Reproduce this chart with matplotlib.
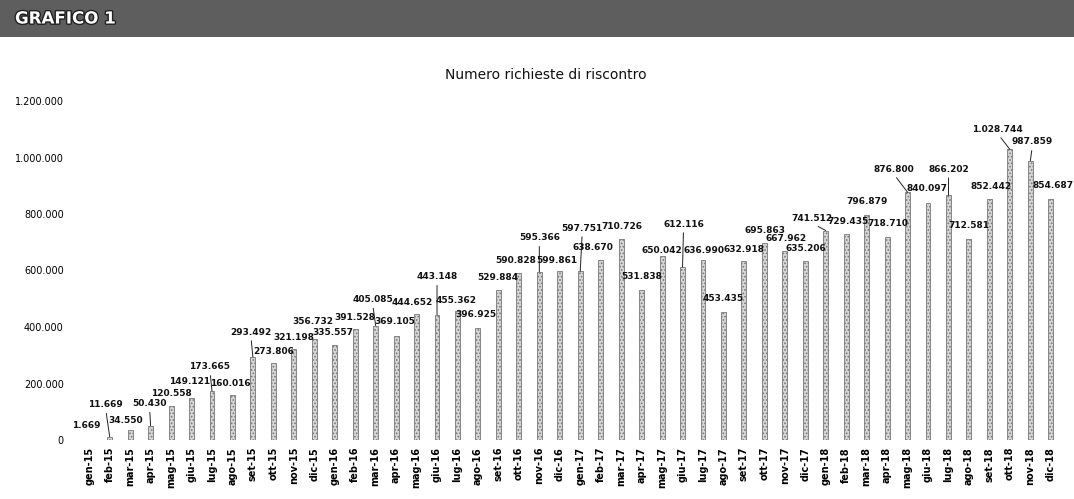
import matplotlib
matplotlib.use("Agg")
import matplotlib.pyplot as plt
import matplotlib.patheffects as pe
from matplotlib.ticker import FuncFormatter

# months gen-15 .. dic-18
mesi = ["gen", "feb", "mar", "apr", "mag", "giu", "lug", "ago", "set", "ott", "nov", "dic"]
anni = ["15", "16", "17", "18"]
categories = [f"{m}-{a}" for a in anni for m in mesi]

richieste = [
    1669, 11669, 34550, 50430, 120558, 149121, 173665, 160016,
    293492, 273806, 321198, 356732, 335557, 391528, 405085, 369105,
    444652, 443148, 455362, 396925, 529884, 590828, 595366, 599861,
    597751, 638670, 710726, 531838, 650042, 612116, 636990, 453435,
    632918, 695863, 667962, 635206, 741512, 729435, 796879, 718710,
    876800, 840097, 866202, 712581, 852442, 1028744, 987859, 854687,
]

# label offsets from the bar top, in pixels (dx, dy up)
label_offsets = [
    (-3, 14), (-4, 32), (-4, 10), (-1, 22), (0, 12), (-2, 16), (-2, 24), (-2, 11),
    (-2, 25), (0, 11), (0, 12), (-1, 18), (-2, 13), (0, 12), (-3, 26), (-1, 14),
    (-4, 12), (0, 38), (-1, 11), (-2, 13), (-1, 13), (-3, 13), (0, 34), (-3, 10),
    (2, 43), (-8, 12), (1, 13), (0, 13), (0, 6), (1, 43), (1, 10), (0, 13),
    (0, 12), (1, 13), (1, 13), (1, 12), (-14, 12), (2, 12), (0, 13), (1, 13),
    (-14, 23), (-1, 14), (0, 26), (0, 13), (2, 13), (-12, 20), (2, 19), (2, 13),
]
# labels pulled away from their bar, drawn with a leader line
leaders = [1, 3, 6, 8, 14, 17, 22, 24, 29, 36, 40, 42, 45, 46]


def it_thousands(v, _pos=None):
    return f"{int(v):,}".replace(",", ".")


plt.rcParams["hatch.color"] = "#808080"
plt.rcParams["hatch.linewidth"] = 0.8

fig = plt.figure(figsize=(10.74, 4.99), dpi=100)
fig.patch.set_facecolor("white")

# header banner
banner = fig.add_axes([0, 1 - 37 / 499, 1, 37 / 499])
banner.set_facecolor("#5e5e5e")
banner.set_xticks([])
banner.set_yticks([])
for s in banner.spines.values():
    s.set_visible(False)
banner.text(15 / 1074, 0.5, "GRAFICO 1", transform=banner.transAxes,
            ha="left", va="center", color="white", fontsize=12, fontweight="bold",
            path_effects=[pe.withStroke(linewidth=2, foreground="#222222")])

fig.text(546 / 1074, 1 - 75 / 499, "Numero richieste di riscontro",
         ha="center", va="center", fontsize=10, color="#111111")

ax = fig.add_axes([79 / 1074, 59 / 499, 982 / 1074, 339 / 499])
x = list(range(len(categories)))
ax.bar(x, richieste, width=0.24, color="#d6d6d6", edgecolor="#777777",
       linewidth=0.6, hatch=".....")

ax.set_xlim(-0.5, len(categories) - 0.5)
ax.set_ylim(0, 1200000)
ax.set_yticks(range(0, 1200001, 200000))
ax.yaxis.set_major_formatter(FuncFormatter(it_thousands))
ax.set_xticks(x)
ax.set_xticklabels(categories, rotation=90, fontsize=7, fontweight="bold")
ax.tick_params(axis="both", length=0)
ax.tick_params(axis="y", labelsize=7, pad=11)
ax.tick_params(axis="x", pad=5)
for s in ax.spines.values():
    s.set_visible(False)

for i, (v, (dx, dy)) in enumerate(zip(richieste, label_offsets)):
    kw = {}
    if i in leaders:
        kw["arrowprops"] = dict(arrowstyle="-", color="#222222", lw=0.7,
                                shrinkA=1, shrinkB=0, relpos=(0.5, 0.0))
    ax.annotate(it_thousands(v), xy=(i, v), xytext=(dx, dy),
                textcoords="offset pixels", ha="center", va="center",
                fontsize=6.5, fontweight="bold", color="#111111",
                annotation_clip=False, **kw)

fig.savefig("out.png", dpi=100)
